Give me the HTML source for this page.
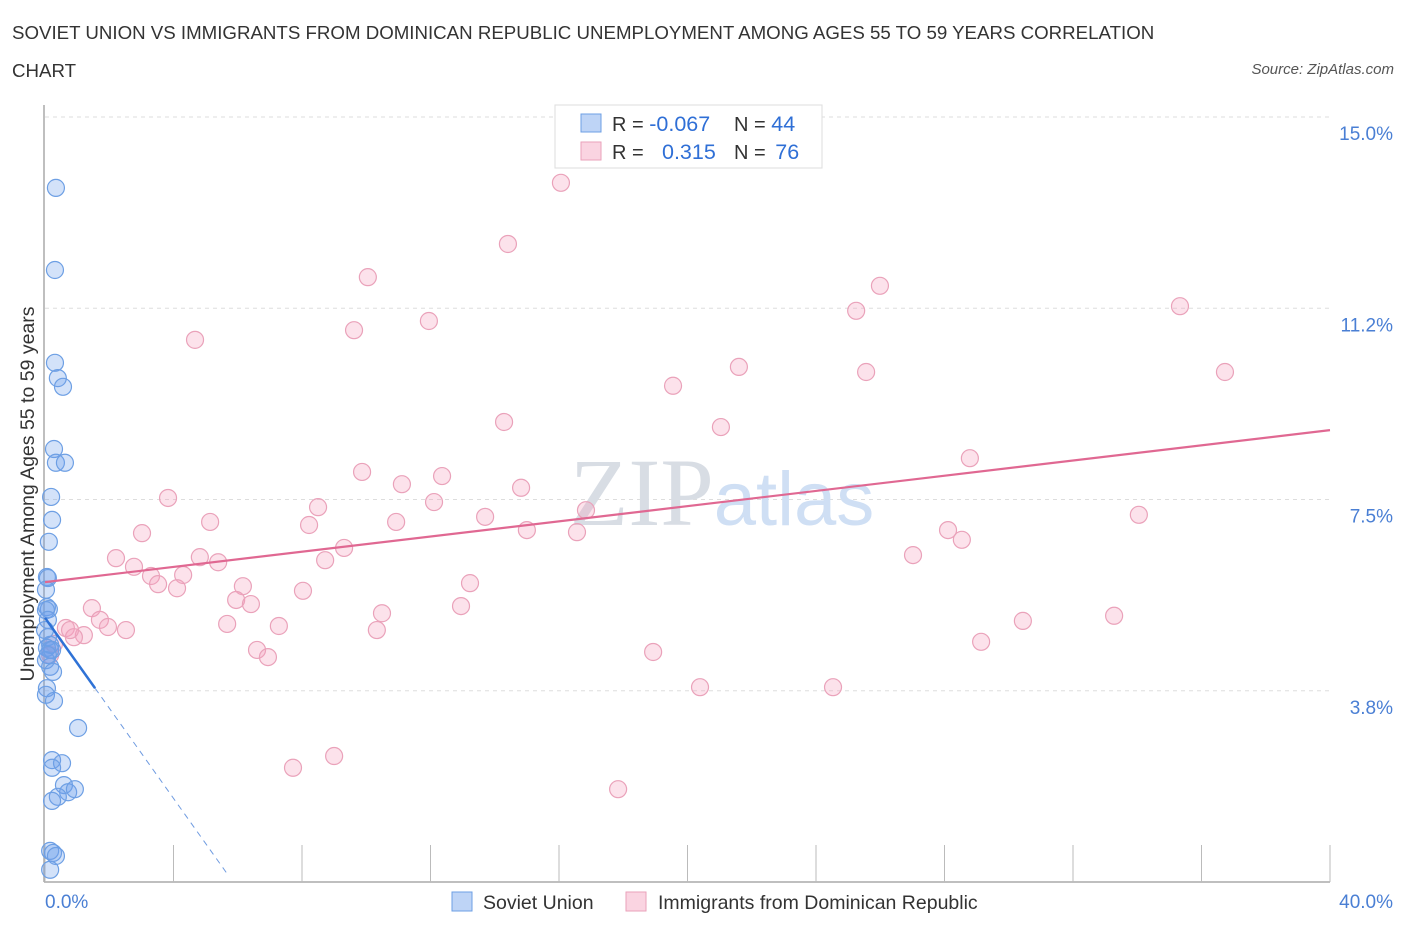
<!DOCTYPE html>
<html><head><meta charset="utf-8"><style>
body{margin:0;background:#fff;font-family:"Liberation Sans",sans-serif;}
#wrap{position:relative;width:1406px;height:930px;overflow:hidden;}
.t{position:absolute;white-space:nowrap;}
</style></head><body>
<div id="wrap">
<div class="t" style="left:12px;top:14px;font-size:18.7px;color:#333;line-height:38px;">SOVIET UNION VS IMMIGRANTS FROM DOMINICAN REPUBLIC UNEMPLOYMENT AMONG AGES 55 TO 59 YEARS CORRELATION<br>CHART</div>
<div class="t" style="right:12px;top:61px;font-size:15px;color:#555;font-style:italic;">Source: ZipAtlas.com</div>
<svg id="chart" width="1406" height="930" style="position:absolute;left:0;top:0"></svg>
</div>
<script>
const xTicks=[0,4,8,12,16,20,24,28,32,36,40];
const yTicks=[3.75,7.5,11.25,15];
const yTickLabels=["3.8%","7.5%","11.2%","15.0%"];
const blueX=[0.34,0.31,0.31,0.40,0.56,0.28,0.34,0.62,0.19,0.22,0.12,0.06,0.09,0.03,0.06,0.12,0.03,0.09,0.16,0.06,0.16,0.22,0.03,0.16,0.25,0.06,0.03,0.28,1.03,0.22,0.53,0.22,0.59,0.72,0.93,0.40,0.22,0.16,0.25,0.34,0.16,0.09,0.00,0.09];
const blueY=[13.61,12.00,10.18,9.88,9.71,8.49,8.22,8.22,7.55,7.10,6.67,5.98,5.96,5.73,5.39,5.35,5.33,4.80,4.65,4.59,4.55,4.55,4.35,4.22,4.12,3.80,3.67,3.55,3.02,2.39,2.33,2.24,1.90,1.76,1.82,1.67,1.59,0.61,0.57,0.51,0.24,5.14,4.94,4.45];
const pinkX=[16.06,14.41,10.05,25.99,25.25,35.33,11.95,9.62,4.67,21.60,25.56,36.73,19.55,14.29,21.04,28.79,9.87,12.36,11.11,14.82,3.83,12.11,8.50,16.84,34.05,13.70,5.14,8.22,10.93,28.11,3.02,15.00,16.56,28.54,9.31,2.21,4.82,27.02,8.72,5.39,2.77,3.30,4.30,13.23,3.52,6.16,4.11,8.03,5.95,6.41,12.95,1.46,10.49,33.28,1.71,30.44,5.67,7.28,0.65,1.96,2.52,10.33,1.21,0.90,0.28,29.14,6.60,18.93,6.94,0.16,20.39,24.53,9.00,7.72,17.84,0.78];
const pinkY=[13.71,12.51,11.86,11.69,11.20,11.29,11.00,10.82,10.63,10.10,10.00,10.00,9.73,9.02,8.92,8.31,8.04,7.96,7.80,7.73,7.53,7.45,7.35,7.29,7.20,7.16,7.06,7.00,7.06,6.90,6.84,6.90,6.86,6.71,6.55,6.35,6.37,6.41,6.31,6.27,6.18,6.00,6.02,5.86,5.84,5.80,5.76,5.71,5.53,5.45,5.41,5.37,5.27,5.22,5.14,5.12,5.06,5.02,4.98,5.00,4.94,4.94,4.84,4.80,4.67,4.71,4.55,4.51,4.41,4.45,3.82,3.82,2.47,2.24,1.82,4.94];
const pinkTrend=[5.88,8.86]; // value at x=0 and x=40
const blueTrend=[5.18,-0.885]; // intercept, slope
const X=v=>45+v*1285/40, Y=v=>882-v*51;
const svg=document.getElementById('chart');const NS='http://www.w3.org/2000/svg';
function mk(tag,attrs,parent){const e=document.createElementNS(NS,tag);for(const k in attrs)e.setAttribute(k,attrs[k]);(parent||svg).appendChild(e);return e;}
yTicks.forEach((v,i)=>{
 const g=mk('line',{x1:45,x2:1330,y1:Y(v),y2:Y(v),stroke:'#ddd','stroke-dasharray':'4,4'});
 
 
 const t=mk('text',{x:1393,y:Y(v)+23,'text-anchor':'end','font-size':19,fill:'#4a7fd4'});t.textContent=yTickLabels[i];
 
 
});
const wm=mk('text',{x:722,y:525,'text-anchor':'middle','font-size':96,fill:'#e8eef6'});


wm.innerHTML='<tspan font-family="Liberation Serif" fill="#d8dde4">ZIP</tspan><tspan font-size="76" fill="#cfdff4">atlas</tspan>';
const ax=mk('line',{x1:44,x2:1330,y1:882,y2:882,stroke:'#aaa','stroke-width':1.5});


const ay=mk('line',{x1:44,x2:44,y1:105,y2:882,stroke:'#aaa','stroke-width':1.5});


xTicks.forEach(v=>{const t=mk('line',{x1:X(v),x2:X(v),y1:845,y2:882,stroke:'#bbb'});
 
 });
const xl0=mk('text',{x:45,y:908,'font-size':19,fill:'#4a7fd4'});xl0.textContent='0.0%';


const xl1=mk('text',{x:1393,y:908,'text-anchor':'end','font-size':19,fill:'#4a7fd4'});xl1.textContent='40.0%';


const yt=mk('text',{x:34,y:494,'text-anchor':'middle','font-size':19.5,fill:'#333',transform:'rotate(-90 34 494)'});yt.textContent='Unemployment Among Ages 55 to 59 years';


pinkX.forEach((v,i)=>{const c=mk('circle',{cx:X(v),cy:Y(pinkY[i]),r:8.5,fill:'rgba(244,160,188,0.3)',stroke:'#eaa2ba','stroke-width':1.2});
 
 });
blueX.forEach((v,i)=>{const c=mk('circle',{cx:X(v),cy:Y(blueY[i]),r:8.5,fill:'rgba(110,160,235,0.3)',stroke:'#6d9fe4','stroke-width':1.2});
 
 });
const pl=mk('line',{x1:X(0),y1:Y(pinkTrend[0]),x2:X(40),y2:Y(pinkTrend[1]),stroke:'#e06892','stroke-width':2.2});


const bs=1.56,be=5.7;
const bl=mk('line',{x1:X(0),y1:Y(blueTrend[0]),x2:X(bs),y2:Y(blueTrend[0]+blueTrend[1]*bs),stroke:'#2f72d6','stroke-width':2.5});


const bd=mk('line',{x1:X(bs),y1:Y(blueTrend[0]+blueTrend[1]*bs),x2:X(be),y2:Y(blueTrend[0]+blueTrend[1]*be),stroke:'#6f9be0','stroke-width':1,'stroke-dasharray':'6,5'});


const lb=mk('rect',{x:555,y:105,width:267,height:63,fill:'#fff',stroke:'#ddd'});


const s1=mk('rect',{x:581,y:114,width:20,height:18,fill:'rgba(110,160,235,0.45)',stroke:'#6d9fe4'});


const s2=mk('rect',{x:581,y:142,width:20,height:18,fill:'rgba(244,160,188,0.45)',stroke:'#eaa2ba'});


const r1=mk('text',{x:612,y:131,'font-size':20,fill:'#333'});r1.innerHTML='R = <tspan fill="#2f6fd6" font-size="21.5">-0.067</tspan><tspan x="734">N = </tspan><tspan fill="#2f6fd6" font-size="21.5">44</tspan>';


const r2=mk('text',{x:612,y:159,'font-size':20,fill:'#333'});r2.innerHTML='R = <tspan x="662" fill="#2f6fd6" font-size="21.5">0.315</tspan><tspan x="734">N = </tspan><tspan fill="#2f6fd6" font-size="21.5" dx="4">76</tspan>';


const b1=mk('rect',{x:452,y:892,width:20,height:19,fill:'rgba(110,160,235,0.45)',stroke:'#6d9fe4'});


const t1=mk('text',{x:483,y:909,'font-size':19.5,fill:'#333'});t1.textContent='Soviet Union';


const b2=mk('rect',{x:626,y:892,width:20,height:19,fill:'rgba(244,160,188,0.45)',stroke:'#eaa2ba'});


const t2=mk('text',{x:658,y:909,'font-size':19.5,fill:'#333'});t2.textContent='Immigrants from Dominican Republic';


</script>
</body></html>
